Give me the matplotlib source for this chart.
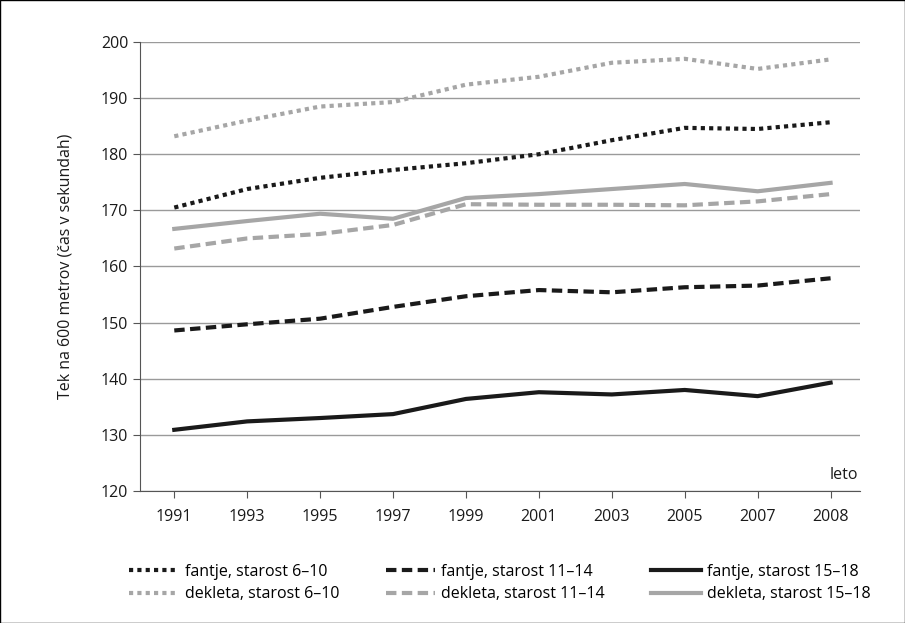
import matplotlib
matplotlib.use('Agg')
import matplotlib.pyplot as plt

years = ['1991', '1993', '1995', '1997', '1999', '2001', '2003', '2005', '2007', '2008']

fantje_6_10 = [170.5, 173.8, 175.8, 177.2, 178.4, 180.0, 182.5, 184.7, 184.5, 185.7]
fantje_11_14 = [148.6, 149.7, 150.7, 152.8, 154.7, 155.8, 155.4, 156.3, 156.6, 157.9]
fantje_15_18 = [130.9, 132.4, 133.0, 133.7, 136.4, 137.6, 137.2, 138.0, 136.9, 139.3]
dekleta_6_10 = [183.2, 186.0, 188.5, 189.3, 192.4, 193.8, 196.3, 197.0, 195.2, 196.9]
dekleta_11_14 = [163.2, 165.0, 165.8, 167.4, 171.1, 171.0, 171.0, 170.9, 171.6, 172.9]
dekleta_15_18 = [166.7, 168.1, 169.4, 168.5, 172.2, 172.9, 173.8, 174.7, 173.4, 174.9]

plt.rcParams['font.family'] = ['Open Sans', 'DejaVu Sans']

fig = plt.figure(figsize=(9.05, 6.23), dpi=100)
ax = fig.add_axes([0.1547, 0.2119, 0.7953, 0.7207])

black = '#1a1a1a'
grey = '#a6a6a6'
x = list(range(len(years)))

ax.plot(x, fantje_6_10, color=black, lw=3, linestyle=(0, (1, 1)), label='fantje, starost 6–10')
ax.plot(x, dekleta_6_10, color=grey, lw=3, linestyle=(0, (1, 1)), label='dekleta, starost 6–10')
ax.plot(x, fantje_11_14, color=black, lw=3, linestyle=(0, (2.5, 1.3)), label='fantje, starost 11–14')
ax.plot(x, dekleta_11_14, color=grey, lw=3, linestyle=(0, (2.5, 1.3)), label='dekleta, starost 11–14')
ax.plot(x, fantje_15_18, color=black, lw=3, label='fantje, starost 15–18')
ax.plot(x, dekleta_15_18, color=grey, lw=3, label='dekleta, starost 15–18')

ax.set_ylim(120, 200)
ax.set_yticks(range(120, 201, 10))
ax.set_xlim(-0.47, 9.4)
ax.set_xticks(x)
ax.set_xticklabels(years)
ax.grid(axis='y', color='#9a9a9a', lw=1)
ax.set_axisbelow(True)
for s in ['top', 'right']:
    ax.spines[s].set_visible(False)
for s in ['left', 'bottom']:
    ax.spines[s].set_color('#555555')
ax.tick_params(axis='both', colors='#555555', labelcolor='#1a1a1a', labelsize=11.5, length=5)
ax.tick_params(axis='x', pad=8)
ax.set_ylabel('Tek na 600 metrov (čas v sekundah)', fontsize=11.5, color='#1a1a1a', labelpad=20)
ax.text(9.38, 121.5, 'leto', ha='right', va='bottom', fontsize=11.5, color='#1a1a1a')

ax.legend(loc='upper center', bbox_to_anchor=(0.5, -0.13), ncol=3, frameon=False,
          fontsize=11.5, handlelength=3.1, columnspacing=2.9, labelspacing=0.4, handletextpad=0.4)

fig.patches.append(plt.Rectangle((0.0005, 0.0005), 0.999, 0.999, transform=fig.transFigure,
                                 fill=False, edgecolor='black', lw=1))

fig.savefig('out.png', dpi=100)
